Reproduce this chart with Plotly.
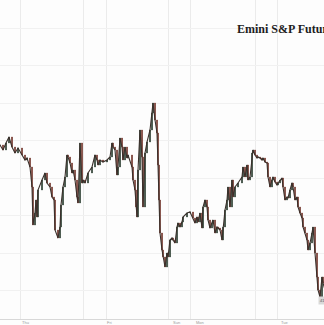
import plotly.graph_objects as go

# Bar positions (session-compressed time index) and closing prices
bar_pos = [0, 3, 6, 9, 12, 15, 18, 22, 25, 27, 30, 32, 33, 35, 36, 37, 38, 42, 45, 47,
           50, 52, 54, 55, 58, 60, 61, 63, 65, 67, 68, 70, 72, 73, 75, 77, 78, 80, 82, 83,
           85, 88, 92, 95, 97, 98, 100, 103, 107, 110, 112, 113, 115, 117, 118, 120, 122, 123, 125, 127,
           128, 132, 133, 135, 136, 137, 138, 140, 142, 143, 145, 147, 150, 152, 153, 155, 157, 158, 159, 160,
           162, 163, 165, 167, 168, 170, 172, 173, 175, 177, 178, 180, 182, 183, 187, 190, 193, 195, 197, 198,
           200, 202, 203, 205, 207, 208, 210, 212, 213, 215, 217, 218, 220, 222, 223, 225, 227, 228, 230, 232,
           233, 235, 238, 242, 243, 245, 247, 248, 250, 252, 253, 255, 257, 258, 260, 262, 263, 265, 267, 268,
           270, 272, 273, 275, 277, 278, 280, 282, 283, 285, 287, 288, 290, 292, 293, 295, 297, 298, 300, 302,
           303, 305, 307, 308, 310, 312, 313, 315, 317, 318, 320, 322, 323, 325]
close = [4255, 4250, 4257, 4263, 4253, 4247, 4252, 4245, 4240, 4242, 4233, 4213, 4175, 4187, 4200, 4183, 4210, 4220, 4227, 4217,
         4213, 4203, 4200, 4170, 4162, 4173, 4195, 4213, 4223, 4245, 4243, 4237, 4227, 4230, 4220, 4203, 4197, 4257, 4217, 4220,
         4217, 4227, 4233, 4245, 4240, 4235, 4240, 4238, 4240, 4243, 4257, 4253, 4250, 4225, 4233, 4262, 4253, 4240, 4253, 4242,
         4245, 4233, 4220, 4210, 4193, 4183, 4230, 4270, 4243, 4193, 4247, 4258, 4270, 4287, 4297, 4280, 4267, 4235, 4200, 4167,
         4150, 4143, 4133, 4147, 4143, 4160, 4162, 4160, 4157, 4173, 4177, 4173, 4178, 4183, 4187, 4188, 4182, 4177, 4183, 4178,
         4187, 4172, 4193, 4200, 4193, 4180, 4172, 4177, 4180, 4167, 4173, 4172, 4170, 4160, 4173, 4190, 4200, 4213, 4193, 4220,
         4203, 4213, 4217, 4223, 4233, 4223, 4235, 4220, 4223, 4247, 4250, 4245, 4242, 4243, 4242, 4240, 4242, 4238, 4237, 4223,
         4213, 4220, 4223, 4218, 4215, 4217, 4220, 4222, 4213, 4200, 4203, 4202, 4210, 4217, 4213, 4200, 4203, 4193, 4187, 4182,
         4173, 4167, 4160, 4150, 4157, 4167, 4173, 4147, 4123, 4110, 4103, 4123, 4117, 4110]

day_labels = ["Thu", "Fri", "Sun", "Mon", "Tue"]
day_label_pos = [21, 106, 172, 195, 280]
grid_x = [20, 83, 106, 168, 190, 255, 277]
grid_y = [4372, 4335, 4297, 4260, 4222, 4185, 4147, 4110]
title_text = "Emini S&P Futures"

open_ = [close[0]] + close[:-1]
high = [max(o, c) for o, c in zip(open_, close)]
low = [min(o, c) for o, c in zip(open_, close)]

fig = go.Figure()
fig.add_trace(go.Scatter(x=bar_pos, y=close, mode="lines",
                         line=dict(color="#3a302b", width=1.1), hoverinfo="skip",
                         showlegend=False))
fig.add_trace(go.Candlestick(x=bar_pos, open=open_, high=high, low=low, close=close,
                             increasing=dict(line=dict(color="#34463a", width=1), fillcolor="#34463a"),
                             decreasing=dict(line=dict(color="#7a3f36", width=1), fillcolor="#7a3f36"),
                             whiskerwidth=0, showlegend=False))

annotations = [dict(x=p, y=0, xref="x", yref="paper", text=t, showarrow=False,
                    xanchor="left", yanchor="top", yshift=0, borderpad=0,
                    font=dict(size=4, color="#9a9a9a", family="Arial"))
               for p, t in zip(day_label_pos, day_labels)]
annotations.append(dict(x=235, y=4371, xref="x", yref="y", text="<b>" + title_text + "</b>",
                        showarrow=False, xanchor="left", yanchor="middle",
                        font=dict(size=12, color="#1e1e1e", family="Liberation Serif")))
annotations.append(dict(x=318, y=4100, xref="x", yref="y", text="4110",
                        showarrow=False, xanchor="left", yanchor="middle",
                        bgcolor="#d9d9d9", font=dict(size=4, color="#555555", family="Arial")))

fig.update_layout(
    width=324, height=325,
    margin=dict(l=0, r=0, t=0, b=6),
    paper_bgcolor="#fdfdfd", plot_bgcolor="#fdfdfd",
    showlegend=False,
    annotations=annotations,
    xaxis=dict(range=[0, 324], tickvals=grid_x, showticklabels=False, ticks="",
               showgrid=True, gridcolor="#ebebeb", gridwidth=1, zeroline=False,
               showline=True, linecolor="#d8d8d8", linewidth=1,
               rangeslider=dict(visible=False), fixedrange=True),
    yaxis=dict(range=[4081, 4400], tickvals=grid_y, showticklabels=False, ticks="",
               showgrid=True, gridcolor="#f1f1f1", gridwidth=1, zeroline=False,
               showline=False, fixedrange=True),
)

fig.write_html("out.html", config={"displayModeBar": False})
